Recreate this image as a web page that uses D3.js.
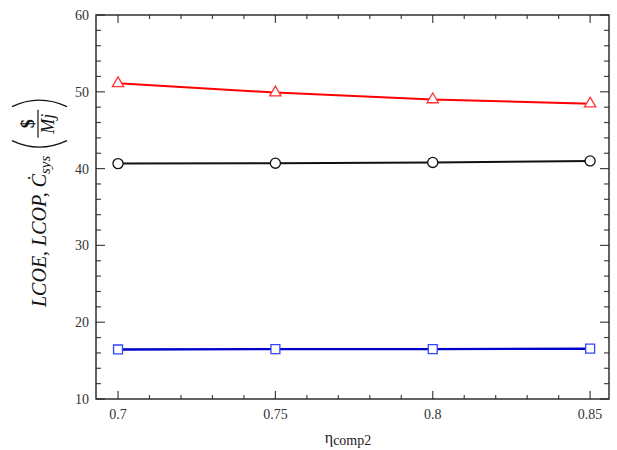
<!DOCTYPE html>
<html>
<head>
<meta charset="utf-8">
<title>LCOE vs eta comp2</title>
<script src="https://d3js.org/d3.v7.min.js"></script>
<style>
    body { margin: 0; background: #fff; }
    svg { display: block; }
    .tick-label { font-family: "Liberation Serif", serif; font-size: 14px; fill: #333; }
    .ylab { font-family: "Liberation Serif", serif; font-style: italic; fill: #111; }
</style>
</head>
<body>
<div id="chart"></div>
<script>

// x values (eta comp2)
var etaComp2 = [0.7, 0.75, 0.8, 0.85];
// series values
var lcoeRed = [51.1, 49.9, 49.0, 48.45];
var lcopBlack = [40.65, 40.7, 40.8, 41.0];
var csysBlue = [16.45, 16.5, 16.5, 16.55];
// tick labels
var xTicks = [0.7, 0.75, 0.8, 0.85];
var yTicks = [10, 20, 30, 40, 50, 60];

var W = 617, H = 450;
var margin = {top: 15, right: 8, bottom: 51, left: 96};

var svg = d3.select("#chart").append("svg")
    .attr("width", W)
    .attr("height", H);

var x = d3.scaleLinear().domain([0.693, 0.856]).range([margin.left, W - margin.right]);
var y = d3.scaleLinear().domain([10, 60]).range([H - margin.bottom, margin.top]);

var x0 = x.range()[0], x1 = x.range()[1], y0 = y.range()[0], y1 = y.range()[1];

// minor + major ticks, drawn inward on all 4 sides
var xMinor = d3.range(70, 86).map(function(d) { return d / 100; });
var yMinor = d3.range(10, 61, 2);
var tickG = svg.append("g").attr("stroke", "#444").attr("stroke-width", 1.2);

xMinor.forEach(function(v) {
    var major = xTicks.some(function(t) { return Math.abs(t - v) < 1e-9; });
    var len = major ? 8 : 4;
    tickG.append("line").attr("x1", x(v)).attr("x2", x(v)).attr("y1", y0).attr("y2", y0 - len);
    tickG.append("line").attr("x1", x(v)).attr("x2", x(v)).attr("y1", y1).attr("y2", y1 + len);
});
yMinor.forEach(function(v) {
    var len = (v % 10 === 0) ? 9 : 5;
    tickG.append("line").attr("y1", y(v)).attr("y2", y(v)).attr("x1", x0).attr("x2", x0 + len);
    tickG.append("line").attr("y1", y(v)).attr("y2", y(v)).attr("x1", x1).attr("x2", x1 - len);
});

// frame
svg.append("rect")
    .attr("x", x0).attr("y", y1)
    .attr("width", x1 - x0).attr("height", y0 - y1)
    .attr("fill", "none").attr("stroke", "#222").attr("stroke-width", 1.4);

// tick labels
svg.selectAll(".xl").data(xTicks).enter().append("text")
    .attr("class", "tick-label")
    .attr("x", function(d) { return x(d); })
    .attr("y", y0 + 20)
    .attr("text-anchor", "middle")
    .text(function(d) { return d; });

svg.selectAll(".yl").data(yTicks).enter().append("text")
    .attr("class", "tick-label")
    .attr("x", x0 - 7)
    .attr("y", function(d) { return y(d) + 5; })
    .attr("text-anchor", "end")
    .text(function(d) { return d; });

// x axis title
var xt = svg.append("text")
    .attr("x", 348).attr("y", 443)
    .attr("text-anchor", "middle")
    .attr("font-family", "Liberation Serif, serif")
    .attr("fill", "#222");
xt.append("tspan").attr("font-size", "16px").text("η");
xt.append("tspan").attr("font-size", "14px").attr("dy", 2).text("comp2");

// y axis title (rotated)
var yg = svg.append("g").attr("transform", "translate(46,307) rotate(-90)");
var yt = yg.append("text").attr("class", "ylab").attr("font-size", "20px");
yt.append("tspan").text("LCOE, LCOP, Ċ");
yt.append("tspan").attr("font-size", "15px").attr("dy", 4).text("sys");
var tl = yt.node().getComputedTextLength();

var pL = tl + 8, pR = pL + 48, fc = (pL + pR) / 2;
var paren = yg.append("g").attr("fill", "none").attr("stroke", "#111").attr("stroke-width", 1.3);
paren.append("path").attr("d", "M" + (pL + 7) + ",-34 Q" + (pL - 6) + ",-7 " + (pL + 7) + ",21");
paren.append("path").attr("d", "M" + (pR - 7) + ",-34 Q" + (pR + 6) + ",-7 " + (pR - 7) + ",21");
yg.append("line").attr("x1", fc - 14).attr("x2", fc + 14).attr("y1", -8).attr("y2", -8)
    .attr("stroke", "#111").attr("stroke-width", 1.2);
yg.append("text").attr("x", fc).attr("y", -12).attr("text-anchor", "middle")
    .attr("font-family", "Liberation Serif, serif").attr("font-size", "18px").attr("font-weight", "bold")
    .attr("fill", "#111").text("$");
yg.append("text").attr("class", "ylab").attr("x", fc).attr("y", 8).attr("text-anchor", "middle")
    .attr("font-size", "18px").text("Mj");

// series
var series = [
    {vals: lcoeRed, line: "#ff0000", mark: "#ff3333", shape: "tri", w: 2},
    {vals: lcopBlack, line: "#111", mark: "#111", shape: "circ", w: 2},
    {vals: csysBlue, line: "#0000cc", mark: "#3344ff", shape: "sq", w: 2.4}
];

var line = d3.line()
    .x(function(d) { return x(d[0]); })
    .y(function(d) { return y(d[1]); });

series.forEach(function(s) {
    var pts = etaComp2.map(function(e, i) { return [e, s.vals[i]]; });
    svg.append("path").datum(pts)
        .attr("d", line)
        .attr("fill", "none")
        .attr("stroke", s.line)
        .attr("stroke-width", s.w);

    var sym = s.shape === "tri" ? d3.symbolTriangle : (s.shape === "circ" ? d3.symbolCircle : d3.symbolSquare);
    var size = s.shape === "tri" ? 55 : 80;
    svg.append("g").selectAll("path").data(pts).enter().append("path")
        .attr("transform", function(d) { return "translate(" + x(d[0]) + "," + y(d[1]) + ")"; })
        .attr("d", d3.symbol().type(sym).size(size))
        .attr("fill", "#fff")
        .attr("stroke", s.mark)
        .attr("stroke-width", 1.3);
});

</script>
</body>
</html>
